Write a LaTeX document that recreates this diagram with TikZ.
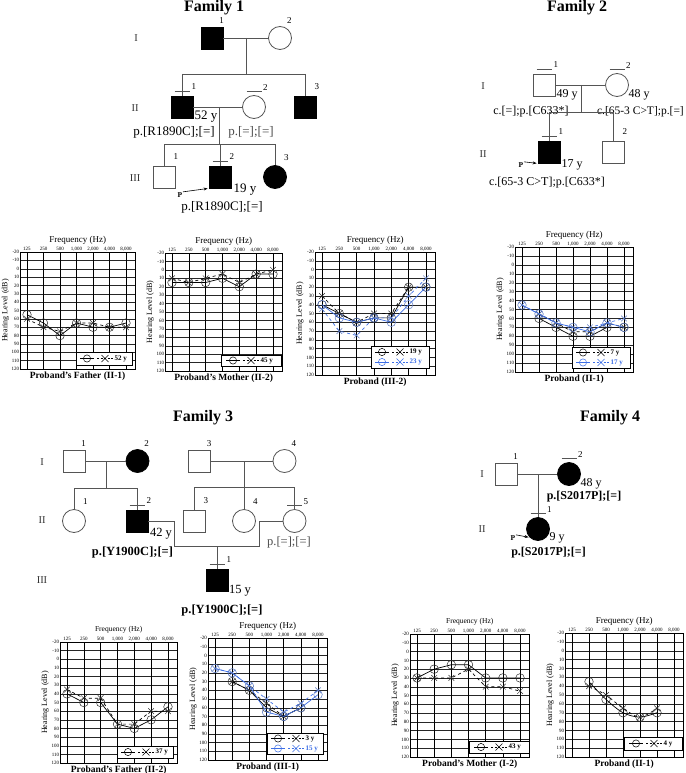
\documentclass[tikz,border=0pt]{standalone}
\usepackage{fontspec}
\setmainfont{Liberation Serif}
\usepackage{xcolor}
\definecolor{pedgray}{RGB}{85,85,85}
\definecolor{txtgray}{RGB}{75,75,75}
\definecolor{audblue}{RGB}{60,110,230}
\usepackage{tikz}
\usetikzlibrary{arrows.meta, positioning, plotmarks, calc}

% grid, scales and titles of one audiogram (inside an audio scope)
\newcommand{\audgrid}[3]{%
  \foreach \d in {-20,-10,...,120}{
    \draw[hgrid] (-0.4,\d) -- (6.55,\d);
    \node[dblbl] (#3db\d) at (-0.4,\d) {\d};
  }
  \foreach \f [count=\i from 0] in {125,250,500,{1,000},{2,000},{4,000},{8,000}}{
    \draw[vgrid] (\i,-20) -- (\i,120);
    \node[frqlbl] (#3f\i) at (\i,-20) {\f};
  }
  \draw[gridbox] (-0.4,-20) rectangle (6.55,120);
  \node[font=\fontsize{#2}{#2}\selectfont] (#3freq) at ([yshift=12pt]3.07,-20) {Frequency (Hz)};
  \node[hlvl] (#3hl) at ([xshift=-15pt]-0.4,50) {Hearing Level (dB)};
  \node[capt] (#3cap) at ([yshift=-7pt]3.07,120) {#1};
}
% one legend row: x0, y, colour, text, name
\newcommand{\legrow}[5]{%
  \draw[#3, line width=0.7pt] ({#1+2},#2) -- ({#1+16},#2);
  \draw[#3, line width=0.5pt] ({#1+9},#2) circle[radius=3.6pt];
  \draw[#3, line width=0.6pt, dash pattern=on 2pt off 1.5pt] ({#1+19},#2) -- ({#1+35},#2);
  \draw[#3, line width=0.5pt] ({#1+23.5},{#2-3.5}) -- ({#1+30.5},{#2+3.5})
                              ({#1+23.5},{#2+3.5}) -- ({#1+30.5},{#2-3.5});
  \node[legtxt, #3] (#5) at ({#1+36},#2) {#4};
}
% tested individual
\newcommand{\exam}[1]{\draw[pedline] ([xshift=-7.5pt,yshift=4pt]#1.north) -- ([xshift=7.5pt,yshift=4pt]#1.north);}

\begin{document}
\begin{tikzpicture}[
    x=1pt, y=-1pt,
    male/.style={rectangle, draw=pedgray, line width=0.8pt,
      minimum size=22pt, inner sep=0pt},
    female/.style={circle, draw=pedgray, line width=0.8pt,
      minimum size=23pt, inner sep=0pt},
    aff/.style={fill=black, draw=black},
    pedline/.style={draw=pedgray, line width=0.8pt},
    num/.style={font=\fontsize{9}{10}\selectfont, inner sep=0.5pt, label distance=3pt},
    numb/.style={num, label distance=6pt},
    gen/.style={font=\fontsize{10.5}{12}\selectfont, text=black!80},
    famtitle/.style={font=\fontsize{16}{18}\selectfont\bfseries},
    geno/.style={font=\fontsize{#1}{#1}\selectfont, inner sep=0pt},
    genob/.style={font=\fontsize{#1}{#1}\selectfont\bfseries, inner sep=0pt},
    pmark/.style={font=\fontsize{7.5}{8}\selectfont\bfseries, inner sep=0.5pt},
    parrow/.style={-{Stealth[length=4pt, width=3pt]}, line width=0.6pt, shorten >=1pt},
    hgrid/.style={draw=black!85, line width=0.35pt},
    vgrid/.style={draw=black, line width=0.6pt},
    gridbox/.style={draw=black, line width=0.6pt},
    dblbl/.style={anchor=east, font=\fontsize{5}{5}\selectfont, inner sep=1pt},
    frqlbl/.style={anchor=south, font=\fontsize{5}{5}\selectfont, inner sep=1pt},
    hlvl/.style={rotate=90, font=\fontsize{8}{9}\selectfont},
    capt/.style={font=\fontsize{9.5}{10}\selectfont\bfseries},
    audio/.style n args={4}{shift={(#1,{#3+(#4-#3)/7})},
      x={(#2pt,0pt)}, y={(0pt,{(#3-#4)/140*1pt})}},
    ro/.style={draw=#1, line width=0.7pt, mark=o, mark size=4.3pt,
      mark options={solid, draw=#1!65!gray, line width=0.5pt}},
    ro/.default=black,
    lx/.style={draw=#1, line width=0.7pt, dashed, mark=x, mark size=4pt,
      mark options={solid, draw=#1!65!gray, line width=0.5pt}},
    lx/.default=black,
    legbox/.style={draw=black, fill=white, line width=0.6pt},
    legtxt/.style={font=\fontsize{7}{7}\selectfont\bfseries, inner sep=0.5pt, anchor=west}
  ]
  \useasboundingbox (0,0) rectangle (685,773);

  % Family 1
  \node[famtitle] (f1title) at (214,8) {Family 1};
  \node[gen] (f1gI)   at (136,38)  {I};
  \node[gen] (f1gII)  at (135,108) {II};
  \node[gen] (f1gIII) at (135,178) {III};
  \node[male, aff, label={[num]65:1}] (f1i1) at (212,38) {};
  \node[female, label={[num]65:2}]    (f1i2) at (280,38) {};
  \coordinate (f1m) at (246,38);
  \coordinate (f1s) at (246,74);
  \node[male, aff, label={[numb]62:1}] (f1ii1) at (182,107) {};
  \node[female, label={[numb]62:2}]    (f1ii2) at (254,107) {};
  \node[male, aff, label={[numb]62:3}] (f1ii3) at (305,107) {};
  \coordinate (f1m2) at (219,107);
  \coordinate (f1s2) at (219,144);
  \node[male, label={[numb]62:1}]        (f1iii1) at (164,177) {};
  \node[male, aff, label={[numb]62:2}]   (f1iii2) at (220,177) {};
  \node[female, aff, label={[numb]62:3}] (f1iii3) at (275,177) {};
  \node[geno=13] (f1age1) at (206,117) {52 y};
  \node[geno=13] (f1gt1)  at (174,132) {p.[R1890C];[=]};
  \node[geno=13, text=txtgray] (f1gt2) at (251,132) {p.[=];[=]};
  \node[geno=13] (f1age2) at (245,190) {19 y};
  \node[geno=13] (f1gt3)  at (222,207) {p.[R1890C];[=]};
  \node[pmark] (f1p) at (180,195) {P};

  \draw[pedline] (f1i1) -- (f1i2);
  \draw[pedline] (f1m) -- (f1s);
  \draw[pedline] (f1ii1 |- f1s) -- (f1ii3 |- f1s);
  \draw[pedline] (f1ii1 |- f1s) -- (f1ii1);
  \draw[pedline] (f1ii3 |- f1s) -- (f1ii3);
  \draw[pedline] (f1ii1) -- (f1ii2);
  \draw[pedline] (f1m2) -- (f1s2);
  \draw[pedline] (f1iii1 |- f1s2) -- (f1iii3 |- f1s2);
  \draw[pedline] (f1iii1 |- f1s2) -- (f1iii1);
  \draw[pedline] (f1iii2 |- f1s2) -- (f1iii2);
  \draw[pedline] (f1iii3 |- f1s2) -- (f1iii3);
  \exam{f1ii1} \exam{f1ii2} \exam{f1iii2}
  \draw[parrow] (f1p.north east) -- (f1iii2.south west);

  % Family 2
  \node[famtitle] (f2title) at (577,8) {Family 2};
  \node[gen] (f2gI)  at (483,86)  {I};
  \node[gen] (f2gII) at (483,154) {II};
  \node[male, label={[numb]62:1}]   (f2i1) at (544,85) {};
  \node[female, label={[numb]62:2}] (f2i2) at (617,85) {};
  \coordinate (f2m) at (581,85);
  \coordinate (f2s) at (581,112);
  \node[male, aff, label={[numb]62:1}] (f2ii1) at (549,152) {};
  \node[male, label={[numb]62:2}]      (f2ii2) at (613,152) {};
  \node[geno=12] (f2age1) at (567,95)  {49 y};
  \node[geno=12] (f2age2) at (639,95)  {48 y};
  \node[geno=12] (f2gt1)  at (531,112) {c.[=];p.[C633*]};
  \node[geno=11.5, anchor=east] (f2gt2) at (684,112) {c.[65-3 C>T];p.[=]};
  \node[geno=12] (f2age3) at (572,165) {17 y};
  \node[geno=12] (f2gt3)  at (547,183) {c.[65-3 C>T];p.[C633*]};
  \node[pmark] (f2p) at (521,165) {P};

  \draw[pedline] (f2i1) -- (f2i2);
  \draw[pedline] (f2m) -- (f2s);
  \draw[pedline] (f2ii1 |- f2s) -- (f2ii2 |- f2s);
  \draw[pedline] (f2ii1 |- f2s) -- (f2ii1);
  \draw[pedline] (f2ii2 |- f2s) -- (f2ii2);
  \exam{f2i1} \exam{f2i2} \exam{f2ii1}
  \draw[parrow] (f2p.north east) -- (f2ii1.south west);

  % Family 3
  \node[famtitle] (f3title) at (203,418) {Family 3};
  \node[gen] (f3gI)   at (42,462) {I};
  \node[gen] (f3gII)  at (42,520) {II};
  \node[gen] (f3gIII) at (42,580) {III};
  \node[male, label={[num]65:1}]        (f3i1) at (74,461)    {};
  \node[female, aff, label={[num]65:2}] (f3i2) at (137.5,461) {};
  \node[male, label={[num]65:3}]        (f3i3) at (199.5,461) {};
  \node[female, label={[num]65:4}]      (f3i4) at (284.5,461) {};
  \coordinate (f3m1) at (106,461);
  \coordinate (f3s1) at (106,488);
  \coordinate (f3m2) at (244,461);
  \coordinate (f3s2) at (244,487);
  \node[female, label={[numb]62:1}]    (f3ii1) at (74,521)    {};
  \node[male, aff, label={[numb]62:2}] (f3ii2) at (137,521)   {};
  \node[male, label={[numb]62:3}]      (f3ii3) at (194,521)   {};
  \node[female, label={[numb]62:4}]    (f3ii4) at (244,521)   {};
  \node[female, label={[numb]62:5}]    (f3ii5) at (294.5,521) {};
  \coordinate (f3c1) at (174,546);
  \coordinate (f3c2) at (259,546);
  \coordinate (f3m3) at (217,546);
  \node[male, aff, label={[numb]62:1}] (f3iii1) at (217,580) {};
  \node[geno=12.5]  (f3age1) at (161,534)   {42 y};
  \node[genob=12.5] (f3gt1)  at (132.5,552) {p.[Y1900C];[=]};
  \node[geno=12.5, text=txtgray] (f3gt2) at (289,542) {p.[=];[=]};
  \node[geno=12.5]  (f3age2) at (240,591)   {15 y};
  \node[genob=12.5] (f3gt3)  at (222,610)   {p.[Y1900C];[=]};

  \draw[pedline] (f3i1) -- (f3i2);
  \draw[pedline] (f3m1) -- (f3s1);
  \draw[pedline] (f3ii1 |- f3s1) -- (f3ii2 |- f3s1);
  \draw[pedline] (f3ii1 |- f3s1) -- (f3ii1);
  \draw[pedline] (f3ii2 |- f3s1) -- (f3ii2);
  \draw[pedline] (f3i3) -- (f3i4);
  \draw[pedline] (f3m2) -- (f3s2);
  \draw[pedline] (f3ii3 |- f3s2) -- (f3ii5 |- f3s2);
  \draw[pedline] (f3ii3 |- f3s2) -- (f3ii3);
  \draw[pedline] (f3m2 |- f3s2) -- (f3ii4);
  \draw[pedline] (f3ii5 |- f3s2) -- (f3ii5);
  \draw[pedline] (f3ii2.east) -| (f3c1) -- (f3c2) |- (f3ii5.west);
  \draw[pedline] (f3m3) -- (f3iii1);
  \exam{f3ii2} \exam{f3ii5} \exam{f3iii1}

  % Family 4
  \node[famtitle] (f4title) at (610,418) {Family 4};
  \node[gen] (f4gI)  at (482,474) {I};
  \node[gen] (f4gII) at (482,529) {II};
  \node[male, label={[num]65:1}]          (f4i1)  at (506,474) {};
  \node[female, aff, label={[numb]62:2}]  (f4i2)  at (569,474) {};
  \coordinate (f4m) at (538,474);
  \node[female, aff, label={[numb]62:1}]  (f4ii1) at (538,529) {};
  \node[geno=12]  (f4age1) at (591,484)   {48 y};
  \node[genob=12] (f4gt1)  at (584,497)   {p.[S2017P];[=]};
  \node[geno=12]  (f4age2) at (557,538)   {9 y};
  \node[genob=12] (f4gt2)  at (548.5,553) {p.[S2017P];[=]};
  \node[pmark] (f4p) at (513,538) {P};

  \draw[pedline] (f4i1) -- (f4i2);
  \draw[pedline] (f4m) -- (f4ii1);
  \exam{f4i2} \exam{f4ii1}
  \draw[parrow] (f4p.north east) -- (f4ii1.south west);

  % Audiograms, first row
  \begin{scope}[audio={27}{16.5}{252}{369}]
    \audgrid{Proband's Father (II-1)}{9}{aa}
    \draw[ro] plot coordinates {(0,55) (1,65) (2,80) (3,65) (4,70) (5,70) (6,65)};
    \draw[lx] plot coordinates {(0,60) (1,70) (2,75) (3,65) (4,65) (5,70) (6,70)};
  \end{scope}
  \draw[legbox] (76,352) rectangle (132,365);
  \legrow{78}{358.5}{black}{52 y}{aaleg}

  \begin{scope}[audio={172}{16.83}{253}{371}]
    \audgrid{Proband's Mother (II-2)}{9}{ab}
    \draw[ro] plot coordinates {(0,15) (1,15) (2,15) (3,10) (4,20) (5,5) (6,5)};
    \draw[lx] plot coordinates {(0,10) (1,15) (2,10) (3,5) (4,15) (5,5) (6,0)};
  \end{scope}
  \draw[legbox] (221,355) rectangle (281,366);
  \legrow{224}{360.5}{black}{45 y}{ableg}

  \begin{scope}[audio={322}{17.33}{252}{375}]
    \audgrid{Proband (III-2)}{9}{ac}
    \draw[ro] plot coordinates {(0,40) (1,50) (2,60) (3,55) (4,55) (5,20) (6,20)};
    \draw[lx] plot coordinates {(0,30) (1,50) (2,60) (3,50) (4,50) (5,20) (6,20)};
    \draw[ro=audblue] plot coordinates {(0,40) (1,55) (2,60) (3,55) (4,60) (5,40) (6,20)};
    \draw[lx=audblue] plot coordinates {(0,45) (1,70) (2,75) (3,55) (4,55) (5,30) (6,10)};
  \end{scope}
  \draw[legbox] (371,346) rectangle (429,368);
  \legrow{373}{352}{black}{19 y}{acleg}
  \legrow{373}{362}{audblue}{23 y}{acleg2}

  \begin{scope}[audio={522}{17}{247}{372}]
    \audgrid{Proband (II-1)}{9}{ad}
    \draw[ro] plot coordinates {(1,60) (2,70) (3,80) (4,80) (5,70) (6,70)};
    \draw[lx] plot coordinates {(1,55) (2,65) (3,75) (4,75) (5,65) (6,70)};
    \draw[ro=audblue] plot coordinates {(0,45) (1,55) (2,65) (3,70) (4,75) (5,65) (6,70)};
    \draw[lx=audblue] plot coordinates {(0,45) (1,55) (2,65) (3,70) (4,70) (5,65) (6,60)};
  \end{scope}
  \draw[legbox] (572,347) rectangle (630,368);
  \legrow{574}{352.5}{black}{7 y}{adleg}
  \legrow{574}{362.5}{audblue}{17 y}{adleg2}

  % Audiograms, second row
  \begin{scope}[audio={67}{16.83}{642}{763}]
    \audgrid{Proband's Father (II-2)}{7.5}{ae}
    \draw[ro] plot coordinates {(0,40) (1,50) (2,50) (3,75) (4,80) (5,70) (6,55)};
    \draw[lx] plot coordinates {(0,35) (1,45) (2,45) (3,75) (4,75) (5,60) (6,60)};
  \end{scope}
  \draw[legbox] (117,746) rectangle (173,758);
  \legrow{119}{752}{black}{37 y}{aeleg}

  \begin{scope}[audio={215}{17.17}{638}{760}]
    \audgrid{Proband (III-1)}{9}{af}
    \draw[ro] plot coordinates {(1,30) (2,40) (3,60) (4,70) (5,60)};
    \draw[lx] plot coordinates {(1,30) (2,40) (3,55) (4,70) (5,60)};
    \draw[ro=audblue] plot coordinates {(0,15) (1,20) (2,35) (3,65) (4,70) (5,60) (6,45)};
    \draw[lx=audblue] plot coordinates {(0,15) (1,20) (2,35) (3,50) (4,65) (5,55) (6,40)};
  \end{scope}
  \draw[legbox] (267,733) rectangle (323,754);
  \legrow{269}{738.5}{black}{3 y}{afleg}
  \legrow{269}{748.5}{audblue}{15 y}{afleg2}

  \begin{scope}[audio={417}{17.17}{634}{757}]
    \audgrid{Proband's Mother (I-2)}{7.5}{ag}
    \draw[ro] plot coordinates {(0,30) (1,20) (2,15) (3,15) (4,30) (5,30) (6,30)};
    \draw[lx] plot coordinates {(0,30) (1,30) (2,30) (3,20) (4,40) (5,40) (6,45)};
  \end{scope}
  \draw[legbox] (469,741) rectangle (529,753);
  \legrow{472}{747}{black}{43 y}{agleg}

  \begin{scope}[audio={572}{17}{633}{757}]
    \audgrid{Proband (II-1)}{9}{ah}
    \draw[ro] plot[smooth] coordinates {(1,35) (2,55) (3,70) (4,75) (5,70)};
    \draw[lx] plot[smooth] coordinates {(1,40) (2,50) (3,65) (4,75) (5,65)};
  \end{scope}
  \draw[legbox] (624,737) rectangle (682,750);
  \legrow{627}{743.5}{black}{4 y}{ahleg}

\end{tikzpicture}
\end{document}
